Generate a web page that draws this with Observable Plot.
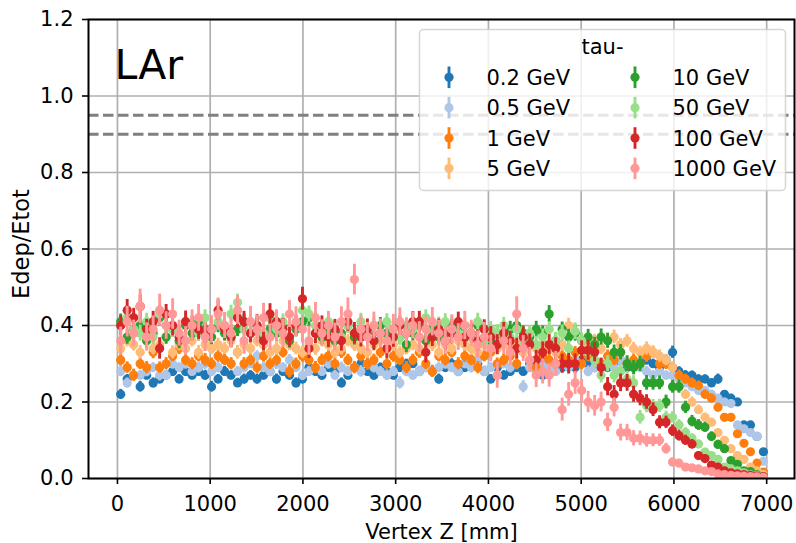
<!DOCTYPE html>
<html><head><meta charset="utf-8">
<script src="https://cdn.jsdelivr.net/npm/d3@7"></script>
<script src="https://cdn.jsdelivr.net/npm/@observablehq/plot@0.6"></script>
<style>
html,body{margin:0;padding:0;background:#fff;}
#chart{width:796px;height:543px;}
</style></head><body><div id="chart"></div>
<script>
// ---------------- data ----------------
const vertexZ = [35,105,175,245,315,385,455,525,595,665,
 735,805,875,945,1015,1085,1155,1225,1295,1365,
 1435,1505,1575,1645,1715,1785,1855,1925,1995,2065,
 2135,2205,2275,2345,2415,2485,2555,2625,2695,2765,
 2835,2905,2975,3045,3115,3185,3255,3325,3395,3465,
 3535,3605,3675,3745,3815,3885,3955,4025,4095,4165,
 4235,4305,4375,4445,4515,4585,4655,4725,4795,4865,
 4935,5005,5075,5145,5215,5285,5355,5425,5495,5565,
 5635,5705,5775,5845,5915,5985,6055,6125,6195,6265,
 6335,6405,6475,6545,6615,6685,6755,6825,6895,6965];

const energyLabels = ["0.2 GeV","0.5 GeV","1 GeV","5 GeV","10 GeV","50 GeV","100 GeV","1000 GeV"];
const legendTitle = "tau-";
const detectorLabel = "LAr";
const xLabel = "Vertex Z [mm]";
const yLabel = "Edep/Etot";
const xTicks = [0,1000,2000,3000,4000,5000,6000,7000];
const yTicks = [0.0,0.2,0.4,0.6,0.8,1.0,1.2];
const refLevels = [0.95,0.90];

const e0p2 = [0.22,0.26,0.27,0.24,0.27,0.25,0.26,0.27,0.28,0.26,
 0.28,0.27,0.28,0.27,0.24,0.26,0.28,0.27,0.25,0.26,
 0.27,0.26,0.27,0.28,0.26,0.28,0.27,0.25,0.26,0.29,
 0.28,0.27,0.29,0.28,0.25,0.27,0.29,0.30,0.28,0.27,
 0.29,0.28,0.27,0.29,0.30,0.30,0.28,0.29,0.28,0.26,
 0.29,0.30,0.28,0.29,0.31,0.30,0.28,0.26,0.29,0.27,
 0.28,0.29,0.28,0.30,0.29,0.27,0.29,0.30,0.29,0.30,
 0.29,0.31,0.30,0.29,0.30,0.29,0.30,0.31,0.29,0.30,
 0.30,0.31,0.30,0.29,0.31,0.33,0.28,0.27,0.27,0.26,
 0.26,0.25,0.26,0.22,0.21,0.20,0.14,0.14,0.11,0.07];
const e0p2Err = [0.013,0.012,0.013,0.014,0.012,0.013,0.012,0.012,0.013,0.012,
 0.013,0.012,0.012,0.013,0.014,0.012,0.013,0.012,0.012,0.013,
 0.012,0.013,0.012,0.012,0.013,0.012,0.012,0.013,0.012,0.013,
 0.012,0.013,0.012,0.012,0.013,0.012,0.013,0.012,0.012,0.013,
 0.012,0.013,0.012,0.013,0.012,0.012,0.013,0.012,0.012,0.013,
 0.012,0.013,0.012,0.012,0.013,0.012,0.013,0.012,0.013,0.012,
 0.012,0.013,0.012,0.013,0.012,0.013,0.012,0.013,0.012,0.013,
 0.012,0.013,0.012,0.013,0.012,0.012,0.013,0.012,0.013,0.012,
 0.012,0.013,0.012,0.012,0.013,0.016,0.012,0.012,0.011,0.011,
 0.011,0.011,0.013,0.010,0.010,0.010,0.009,0.009,0.008,0.008];

const e0p5 = [0.28,0.25,0.27,0.27,0.28,0.29,0.27,0.27,0.30,0.29,
 0.30,0.28,0.29,0.30,0.28,0.29,0.31,0.30,0.28,0.29,
 0.30,0.32,0.29,0.28,0.30,0.29,0.31,0.29,0.27,0.28,
 0.29,0.28,0.30,0.27,0.29,0.28,0.29,0.28,0.30,0.29,
 0.28,0.27,0.28,0.25,0.28,0.27,0.28,0.29,0.28,0.29,
 0.30,0.29,0.28,0.30,0.29,0.31,0.28,0.29,0.27,0.30,
 0.29,0.30,0.24,0.29,0.28,0.30,0.29,0.28,0.30,0.29,
 0.31,0.30,0.28,0.29,0.30,0.30,0.29,0.31,0.30,0.30,
 0.29,0.28,0.27,0.28,0.27,0.27,0.26,0.25,0.24,0.23,
 0.23,0.22,0.21,0.20,0.196,0.14,0.13,0.12,0.11,0.045];
const e0p5Err = [0.014,0.013,0.014,0.013,0.014,0.013,0.015,0.013,0.014,0.013,
 0.014,0.013,0.014,0.015,0.013,0.014,0.013,0.014,0.013,0.014,
 0.013,0.014,0.013,0.014,0.015,0.013,0.014,0.013,0.014,0.013,
 0.014,0.013,0.014,0.013,0.014,0.013,0.014,0.015,0.013,0.014,
 0.013,0.014,0.013,0.016,0.014,0.013,0.014,0.013,0.014,0.013,
 0.014,0.013,0.014,0.013,0.014,0.013,0.014,0.013,0.014,0.013,
 0.014,0.013,0.016,0.013,0.014,0.013,0.014,0.013,0.014,0.013,
 0.014,0.013,0.014,0.013,0.014,0.013,0.014,0.013,0.014,0.013,
 0.013,0.013,0.012,0.013,0.012,0.012,0.012,0.012,0.011,0.011,
 0.011,0.011,0.010,0.010,0.010,0.009,0.009,0.008,0.008,0.007];

const e1 = [0.31,0.29,0.27,0.30,0.29,0.33,0.29,0.30,0.32,0.34,
 0.31,0.30,0.32,0.31,0.30,0.32,0.31,0.30,0.33,0.30,
 0.31,0.29,0.32,0.30,0.31,0.33,0.28,0.30,0.32,0.31,
 0.29,0.31,0.32,0.30,0.33,0.31,0.29,0.32,0.30,0.31,
 0.33,0.30,0.32,0.31,0.29,0.31,0.33,0.30,0.28,0.32,
 0.31,0.33,0.30,0.32,0.31,0.29,0.32,0.33,0.30,0.31,
 0.32,0.30,0.33,0.31,0.29,0.32,0.31,0.30,0.32,0.31,
 0.33,0.30,0.32,0.31,0.30,0.32,0.31,0.33,0.30,0.31,
 0.30,0.32,0.33,0.30,0.30,0.29,0.27,0.26,0.25,0.243,
 0.22,0.21,0.186,0.16,0.16,0.117,0.092,0.07,0.04,0.017];
const e1Err = [0.016,0.015,0.016,0.015,0.016,0.017,0.015,0.016,0.015,0.016,
 0.015,0.016,0.015,0.017,0.015,0.016,0.015,0.016,0.015,0.016,
 0.016,0.015,0.016,0.015,0.016,0.015,0.017,0.015,0.016,0.015,
 0.016,0.015,0.016,0.015,0.016,0.015,0.016,0.015,0.017,0.015,
 0.016,0.015,0.016,0.015,0.016,0.015,0.016,0.015,0.016,0.015,
 0.016,0.015,0.016,0.017,0.015,0.016,0.015,0.016,0.015,0.016,
 0.015,0.016,0.015,0.016,0.015,0.016,0.015,0.016,0.015,0.016,
 0.015,0.016,0.015,0.016,0.015,0.016,0.015,0.016,0.015,0.016,
 0.015,0.016,0.016,0.015,0.015,0.014,0.014,0.013,0.013,0.012,
 0.012,0.011,0.011,0.010,0.010,0.009,0.008,0.007,0.006,0.005];

const e5 = [0.34,0.36,0.35,0.33,0.36,0.34,0.35,0.37,0.33,0.35,
 0.34,0.36,0.33,0.35,0.34,0.35,0.34,0.36,0.33,0.35,
 0.34,0.36,0.35,0.33,0.34,0.36,0.35,0.34,0.33,0.35,
 0.34,0.36,0.35,0.33,0.34,0.36,0.35,0.34,0.33,0.35,
 0.36,0.34,0.35,0.33,0.34,0.35,0.34,0.36,0.35,0.33,
 0.35,0.34,0.36,0.35,0.34,0.33,0.35,0.36,0.34,0.35,
 0.34,0.35,0.33,0.36,0.34,0.35,0.34,0.33,0.35,0.40,
 0.38,0.36,0.35,0.36,0.34,0.36,0.37,0.35,0.36,0.34,
 0.33,0.34,0.33,0.32,0.31,0.29,0.24,0.22,0.20,0.18,
 0.16,0.147,0.12,0.10,0.078,0.06,0.05,0.03,0.02,0.01];
const e5Err = [0.017,0.016,0.017,0.018,0.016,0.017,0.016,0.018,0.017,0.016,
 0.017,0.016,0.018,0.017,0.016,0.017,0.016,0.017,0.018,0.016,
 0.017,0.016,0.017,0.016,0.018,0.017,0.016,0.017,0.016,0.017,
 0.018,0.016,0.017,0.016,0.017,0.016,0.018,0.017,0.016,0.017,
 0.016,0.017,0.018,0.016,0.017,0.016,0.017,0.016,0.018,0.017,
 0.016,0.017,0.016,0.017,0.018,0.016,0.017,0.016,0.017,0.016,
 0.017,0.018,0.016,0.017,0.016,0.017,0.016,0.018,0.017,0.019,
 0.018,0.017,0.016,0.017,0.016,0.017,0.018,0.016,0.017,0.016,
 0.016,0.017,0.016,0.016,0.015,0.015,0.014,0.013,0.013,0.012,
 0.011,0.011,0.010,0.009,0.008,0.007,0.006,0.005,0.004,0.003];

const e10 = [0.41,0.37,0.39,0.40,0.36,0.38,0.42,0.37,0.39,0.36,
 0.40,0.38,0.41,0.39,0.37,0.40,0.38,0.37,0.39,0.41,
 0.38,0.40,0.37,0.39,0.38,0.40,0.36,0.39,0.41,0.42,
 0.38,0.37,0.39,0.36,0.38,0.40,0.37,0.39,0.38,0.36,
 0.40,0.38,0.39,0.37,0.35,0.38,0.40,0.36,0.39,0.37,
 0.38,0.40,0.39,0.37,0.38,0.40,0.39,0.36,0.38,0.37,
 0.39,0.40,0.38,0.37,0.39,0.38,0.43,0.36,0.39,0.37,
 0.38,0.36,0.37,0.35,0.37,0.36,0.33,0.33,0.30,0.29,
 0.30,0.25,0.25,0.25,0.20,0.24,0.24,0.186,0.15,0.14,
 0.134,0.11,0.089,0.078,0.047,0.037,0.02,0.018,0.01,0.005];
const e10Err = [0.020,0.019,0.021,0.020,0.019,0.020,0.022,0.019,0.020,0.021,
 0.019,0.020,0.021,0.019,0.020,0.019,0.021,0.020,0.019,0.020,
 0.021,0.019,0.020,0.019,0.021,0.020,0.019,0.020,0.021,0.022,
 0.019,0.020,0.021,0.019,0.020,0.019,0.021,0.020,0.019,0.020,
 0.021,0.019,0.020,0.019,0.021,0.020,0.019,0.020,0.021,0.019,
 0.020,0.019,0.021,0.020,0.019,0.020,0.021,0.019,0.020,0.019,
 0.021,0.020,0.019,0.020,0.021,0.019,0.022,0.020,0.019,0.020,
 0.021,0.019,0.020,0.019,0.021,0.020,0.019,0.020,0.021,0.019,
 0.020,0.019,0.019,0.018,0.018,0.017,0.017,0.016,0.015,0.014,
 0.013,0.012,0.011,0.010,0.008,0.007,0.006,0.005,0.004,0.003];

const e50 = [0.40,0.42,0.39,0.38,0.41,0.37,0.43,0.40,0.39,0.38,
 0.41,0.40,0.38,0.42,0.39,0.41,0.40,0.43,0.46,0.39,
 0.41,0.40,0.38,0.42,0.39,0.41,0.37,0.40,0.44,0.43,
 0.40,0.38,0.41,0.39,0.37,0.40,0.38,0.41,0.39,0.40,
 0.38,0.41,0.39,0.37,0.40,0.39,0.41,0.42,0.38,0.40,
 0.41,0.39,0.38,0.40,0.37,0.41,0.36,0.39,0.38,0.40,
 0.37,0.39,0.36,0.38,0.35,0.37,0.39,0.36,0.38,0.34,
 0.385,0.36,0.33,0.31,0.27,0.30,0.27,0.28,0.26,0.25,
 0.16,0.19,0.19,0.19,0.16,0.16,0.14,0.12,0.105,0.09,
 0.069,0.06,0.05,0.03,0.025,0.02,0.015,0.01,0.008,0.005];
const e50Err = [0.021,0.022,0.020,0.021,0.022,0.020,0.023,0.021,0.020,0.022,
 0.021,0.020,0.022,0.021,0.020,0.022,0.021,0.023,0.022,0.020,
 0.021,0.022,0.020,0.021,0.022,0.020,0.021,0.022,0.023,0.021,
 0.020,0.022,0.021,0.020,0.022,0.021,0.020,0.022,0.021,0.020,
 0.022,0.021,0.020,0.022,0.021,0.020,0.022,0.021,0.020,0.022,
 0.021,0.020,0.022,0.021,0.020,0.022,0.021,0.020,0.022,0.021,
 0.020,0.022,0.021,0.020,0.022,0.021,0.020,0.022,0.021,0.020,
 0.022,0.021,0.020,0.021,0.020,0.021,0.020,0.021,0.020,0.019,
 0.018,0.018,0.017,0.017,0.016,0.015,0.014,0.013,0.012,0.011,
 0.010,0.009,0.008,0.007,0.006,0.005,0.004,0.003,0.003,0.002];

const e100 = [0.40,0.44,0.42,0.45,0.39,0.41,0.34,0.43,0.40,0.37,
 0.41,0.40,0.39,0.38,0.39,0.44,0.39,0.37,0.42,0.41,
 0.38,0.40,0.36,0.43,0.41,0.39,0.37,0.40,0.47,0.34,
 0.38,0.40,0.37,0.39,0.36,0.41,0.38,0.37,0.39,0.36,
 0.38,0.34,0.37,0.40,0.38,0.41,0.41,0.33,0.37,0.39,
 0.36,0.38,0.41,0.37,0.38,0.36,0.39,0.37,0.35,0.38,
 0.36,0.34,0.37,0.35,0.31,0.33,0.35,0.34,0.30,0.30,
 0.30,0.335,0.335,0.33,0.29,0.24,0.22,0.25,0.25,0.22,
 0.21,0.20,0.18,0.147,0.147,0.125,0.112,0.10,0.09,0.06,
 0.052,0.035,0.03,0.02,0.015,0.012,0.01,0.008,0.006,0.005];
const e100Err = [0.026,0.028,0.025,0.030,0.026,0.027,0.028,0.025,0.027,0.026,
 0.028,0.025,0.027,0.026,0.028,0.027,0.025,0.028,0.026,0.027,
 0.025,0.028,0.026,0.027,0.025,0.028,0.026,0.027,0.030,0.026,
 0.027,0.025,0.028,0.026,0.027,0.025,0.028,0.026,0.027,0.025,
 0.028,0.026,0.027,0.025,0.028,0.026,0.027,0.028,0.025,0.027,
 0.026,0.028,0.025,0.027,0.026,0.028,0.025,0.027,0.026,0.028,
 0.025,0.027,0.026,0.028,0.025,0.027,0.026,0.028,0.025,0.027,
 0.026,0.025,0.026,0.025,0.024,0.024,0.023,0.023,0.022,0.021,
 0.020,0.019,0.018,0.017,0.016,0.015,0.014,0.013,0.012,0.010,
 0.009,0.008,0.007,0.006,0.005,0.004,0.004,0.003,0.003,0.002];

const e1000 = [0.36,0.41,0.38,0.45,0.37,0.39,0.44,0.40,0.43,0.38,
 0.36,0.40,0.42,0.37,0.39,0.43,0.40,0.38,0.44,0.36,
 0.41,0.39,0.42,0.37,0.40,0.38,0.43,0.41,0.39,0.36,
 0.42,0.38,0.40,0.37,0.41,0.43,0.52,0.39,0.37,0.40,
 0.38,0.36,0.39,0.41,0.38,0.40,0.37,0.39,0.41,0.38,
 0.36,0.39,0.37,0.40,0.38,0.35,0.37,0.34,0.27,0.36,
 0.33,0.43,0.34,0.31,0.27,0.28,0.27,0.30,0.18,0.22,
 0.25,0.23,0.20,0.19,0.20,0.147,0.186,0.12,0.12,0.105,
 0.105,0.10,0.10,0.10,0.078,0.043,0.04,0.03,0.028,0.025,
 0.02,0.018,0.012,0.01,0.008,0.007,0.006,0.005,0.004,0.003];
const e1000Err = [0.036,0.040,0.034,0.045,0.037,0.035,0.042,0.036,0.040,0.034,
 0.037,0.041,0.035,0.038,0.036,0.042,0.034,0.039,0.037,0.035,
 0.040,0.036,0.038,0.034,0.041,0.037,0.035,0.039,0.036,0.038,
 0.040,0.035,0.037,0.036,0.039,0.042,0.040,0.036,0.038,0.035,
 0.037,0.034,0.039,0.036,0.038,0.035,0.040,0.036,0.037,0.034,
 0.036,0.038,0.035,0.037,0.034,0.036,0.038,0.035,0.034,0.036,
 0.035,0.045,0.034,0.033,0.032,0.033,0.031,0.032,0.030,0.031,
 0.030,0.029,0.028,0.027,0.026,0.024,0.025,0.022,0.021,0.020,
 0.019,0.018,0.017,0.016,0.014,0.011,0.010,0.009,0.008,0.007,
 0.006,0.005,0.004,0.004,0.003,0.003,0.002,0.002,0.002,0.002];

const seriesValues = [e0p2, e0p5, e1, e5, e10, e50, e100, e1000];
const seriesErrors = [e0p2Err, e0p5Err, e1Err, e5Err, e10Err, e50Err, e100Err, e1000Err];

// ---------------- style ----------------
const palette = ["#1f77b4","#aec7e8","#ff7f0e","#ffbb78","#2ca02c","#98df8a","#d62728","#ff9896"];
const FONT = "'DejaVu Sans', sans-serif";
const FS = 21;
const DOT_R = 4.6;
const BAR_W = 2.9;

const seriesMarks = [];
seriesValues.forEach((vals, s) => {
  const rows = vertexZ.map((z, i) => ({z, v: vals[i], e: seriesErrors[s][i]}));
  seriesMarks.push(
    Plot.ruleX(rows, {x: "z", y1: d => d.v - d.e, y2: d => d.v + d.e, stroke: palette[s], strokeWidth: BAR_W, clip: true}),
    Plot.dot(rows, {x: "z", y: "v", r: DOT_R, fill: palette[s], stroke: "none", clip: true})
  );
});

const svg = Plot.plot({
  width: 796, height: 543,
  marginLeft: 88, marginRight: 2, marginTop: 19, marginBottom: 65,
  style: {fontFamily: FONT, fontSize: FS + "px", color: "#000", background: "#fff", overflow: "visible"},
  x: {domain: [-312, 7300]},
  y: {domain: [0, 1.2]},
  marks: [
    Plot.gridX(xTicks, {stroke: "#b0b0b0", strokeOpacity: 1, strokeWidth: 1.7}),
    Plot.gridY(yTicks, {stroke: "#b0b0b0", strokeOpacity: 1, strokeWidth: 1.7}),
    Plot.ruleY(refLevels, {stroke: "#808080", strokeWidth: 3, strokeDasharray: "10.5,4.5"}),
    ...seriesMarks,
    Plot.frame({stroke: "#000", strokeWidth: 2}),
    Plot.axisX({ticks: xTicks, tickFormat: d => String(d), tickSize: 6, tickPadding: 12, strokeWidth: 1.6, label: null, fontSize: FS}),
    Plot.axisY({ticks: yTicks, tickFormat: d3.format(".1f"), tickSize: 6, tickPadding: 9, strokeWidth: 1.6, label: null, fontSize: FS}),
    Plot.text([xLabel], {text: d => d, frameAnchor: "bottom", textAnchor: "middle", lineAnchor: "middle", dy: 53.5, fontSize: FS}),
    Plot.text([yLabel], {text: d => d, frameAnchor: "left", textAnchor: "middle", lineAnchor: "middle", rotate: -90, dx: -67, dy: -5, fontSize: 22.5}),
    Plot.text([detectorLabel], {text: d => d, frameAnchor: "top-left", textAnchor: "start", lineAnchor: "top", dx: 26, dy: 30, fontSize: 41})
  ]
});

// ---------------- legend (matplotlib style, inside axes) ----------------
const sel = d3.select(svg);
const lg = sel.append("g").attr("font-family", FONT).attr("font-size", FS).attr("text-anchor", "start");
lg.append("rect").attr("x", 419.5).attr("y", 29.5).attr("width", 366).attr("height", 161).attr("rx", 4)
  .attr("fill", "#fff").attr("fill-opacity", 0.8).attr("stroke", "#cccccc").attr("stroke-opacity", 0.8).attr("stroke-width", 1.5);
lg.append("text").attr("x", 602.5).attr("y", 53.5).attr("text-anchor", "middle").attr("fill", "#000").text(legendTitle);
energyLabels.forEach((lab, i) => {
  const col = Math.floor(i / 4), row = i % 4;
  const mx = 449 + col * 186, my = 77.3 + row * 30.35;
  lg.append("line").attr("x1", mx).attr("x2", mx).attr("y1", my - 10.8).attr("y2", my + 10.8)
    .attr("stroke", palette[i]).attr("stroke-width", BAR_W);
  lg.append("circle").attr("cx", mx).attr("cy", my).attr("r", DOT_R).attr("fill", palette[i]);
  lg.append("text").attr("x", mx + 37.5).attr("y", my + 7.5).attr("text-anchor", "start").attr("fill", "#000").text(lab);
});

document.getElementById("chart").appendChild(svg);
</script>
</body></html>
